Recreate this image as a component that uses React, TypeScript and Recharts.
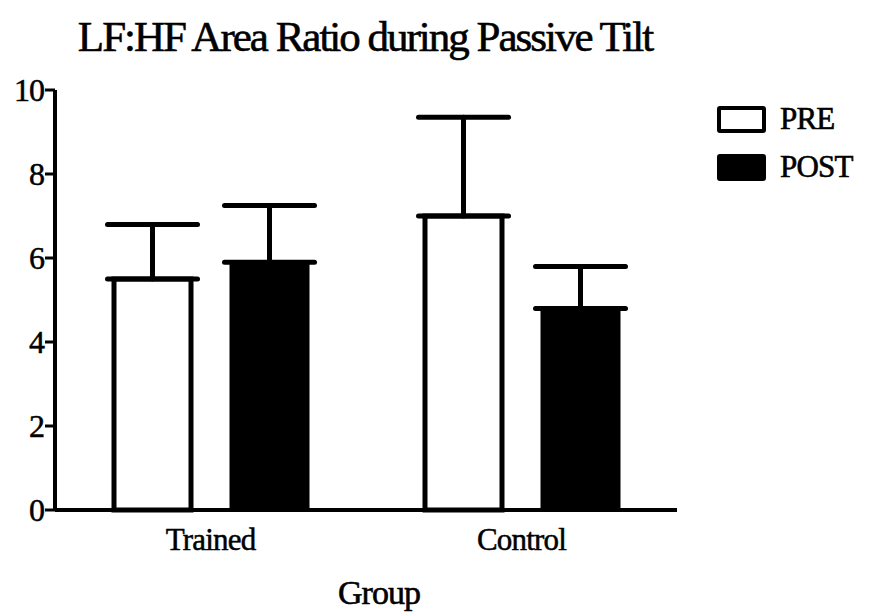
import React from 'react';
import { BarChart, Bar, XAxis, YAxis, ErrorBar } from 'recharts';

const groups = ['Trained', 'Control'];
const preValues = [5.5, 7.0];
const preErrors = [1.3, 2.35];
const postValues = [5.9, 4.8];
const postErrors = [1.35, 1.0];
const yTicks = [0, 2, 4, 6, 8, 10];

const data = groups.map((g, i) => ({
  group: g,
  pre: preValues[i],
  preErr: [0, preErrors[i]],
  post: postValues[i],
  postErr: [0, postErrors[i]],
}));

const serif = '"Liberation Serif", "Times New Roman", "DejaVu Serif", serif';

const legendItems = [
  { name: 'PRE', fill: '#fff' },
  { name: 'POST', fill: '#000' },
];

// the scanned original has heavy type, a thin outline thickens ours a little
const heavy = { WebkitTextStroke: '0.6px #000' } as React.CSSProperties;

export default function App() {
  return (
    <div style={{ position: 'absolute', left: 0, top: 0, width: 886, height: 616, background: '#fff', fontFamily: serif }}>
      <div style={{ position: 'absolute', left: 0, width: 730, top: 12, textAlign: 'center', fontSize: 43, letterSpacing: -2, color: '#000', ...heavy }}>
        LF:HF Area Ratio during Passive Tilt
      </div>
      <BarChart
        width={886}
        height={616}
        data={data}
        margin={{ top: 90, right: 209, bottom: 76, left: 0 }}
        barSize={77}
        barGap={40}
        style={{ fontFamily: serif }}
      >
        <XAxis
          dataKey="group"
          axisLine={{ stroke: '#000', strokeWidth: 4 }}
          tickLine={false}
          tick={{ fill: '#000', stroke: '#000', strokeWidth: 0.5, fontSize: 31, fontFamily: serif, letterSpacing: -0.8 }}
          dy={10}
        />
        <YAxis
          width={55}
          domain={[0, 10]}
          ticks={yTicks}
          interval={0}
          axisLine={{ stroke: '#000', strokeWidth: 4 }}
          tickLine={{ stroke: '#000', strokeWidth: 3 }}
          tickSize={10}
          tickMargin={1}
          tick={{ fill: '#000', stroke: '#000', strokeWidth: 0.5, fontSize: 32, fontFamily: serif, letterSpacing: -1 }}
        />
        <Bar dataKey="pre" name="PRE" fill="#fff" stroke="#000" strokeWidth={5} isAnimationActive={false}>
          <ErrorBar dataKey="preErr" width={45} stroke="#000" strokeWidth={5} strokeLinecap="round" direction="y" />
        </Bar>
        <Bar dataKey="post" name="POST" fill="#000" stroke="#000" strokeWidth={3} isAnimationActive={false}>
          <ErrorBar dataKey="postErr" width={45} stroke="#000" strokeWidth={5} strokeLinecap="round" direction="y" />
        </Bar>
      </BarChart>
      <div style={{ position: 'absolute', left: 338, top: 574, fontSize: 34, letterSpacing: -1, ...heavy }}>Group</div>
      {legendItems.map((it, i) => (
        <div key={it.name} style={{ position: 'absolute', left: 717, top: 101 + i * 48, display: 'flex', alignItems: 'center' }}>
          <div style={{ width: 41, height: 19, background: it.fill, border: '4px solid #000', borderRadius: 3 }} />
          <div style={{ marginLeft: 14, fontSize: 31, letterSpacing: -0.8, ...heavy }}>{it.name}</div>
        </div>
      ))}
    </div>
  );
}
